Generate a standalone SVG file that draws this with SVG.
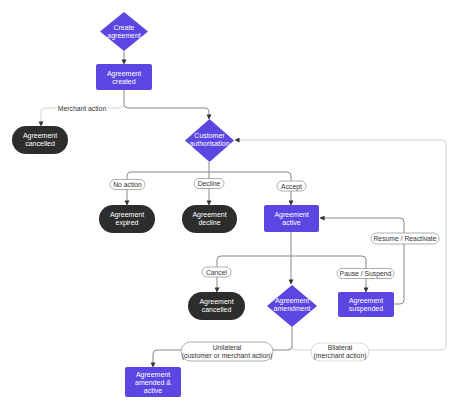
<svg xmlns="http://www.w3.org/2000/svg" width="474" height="417" viewBox="0 0 474 417">
<defs>
<marker id="arr" viewBox="0 0 6 6" refX="5.5" refY="3" markerWidth="5" markerHeight="5" orient="auto" markerUnits="userSpaceOnUse">
<path d="M0,0 L6,3 L0,6 Z" fill="#333"/>
</marker>
<style>
.purple{fill:#5b46e2}
.dark{fill:#2d2d2d}
.nt{font-family:"Liberation Sans",Arial,sans-serif;font-size:7px;fill:#fff;text-anchor:middle}
.lt{font-family:"Liberation Sans",Arial,sans-serif;font-size:6.8px;fill:#333;text-anchor:middle}
.lbl{fill:#fff;stroke:#999;stroke-width:0.8}
.lbll{fill:#fff;stroke:#d0d0d0;stroke-width:0.8}
.c{fill:none;stroke:#888;stroke-width:1}
.cl{fill:none;stroke:#d4d4d4;stroke-width:1}
</style>
</defs>
<rect width="474" height="417" fill="#fff"/>
<g id="connectors">
<path class="c" d="M124 51 V64" marker-end="url(#arr)"/>
<path class="c" d="M124 90 V104 Q124 108 128 108 H205 Q209 108 209 112 V119" marker-end="url(#arr)"/>
<path class="cl" d="M124 104 Q124 108 120 108 H45 Q41 108 41 112 V126" marker-end="url(#arr)"/>
<path class="c" d="M209 162 V205" marker-end="url(#arr)"/>
<path class="c" d="M209 172 H131 Q127 172 127 176 V205" marker-end="url(#arr)"/>
<path class="c" d="M209 172 H287 Q291 172 291 176 V205" marker-end="url(#arr)"/>
<path class="c" d="M291 232 V284" marker-end="url(#arr)"/>
<path class="c" d="M291 256 H221 Q217 256 217 260 V292" marker-end="url(#arr)"/>
<path class="c" d="M291 256 H362 Q366 256 366 260 V292" marker-end="url(#arr)"/>
<path class="c" d="M394 304 H400 Q404 304 404 300 V222 Q404 218 400 218 H320" marker-end="url(#arr)"/>
<path class="c" d="M292 327 V346 Q292 350 288 350 H157 Q153 350 153 354 V367" marker-end="url(#arr)"/>
<path class="cl" d="M292 346 Q292 350 296 350 H442 Q446 350 446 346 V144 Q446 140 442 140 H235" marker-end="url(#arr)"/>
<rect x="57" y="103" width="51" height="10" fill="#fff"/>
<text class="lt" x="82" y="110.5">Merchant action</text>
<rect class="lbl" x="110" y="179.5" width="35" height="10" rx="5"/>
<text class="lt" x="127.5" y="187">No action</text>
<rect class="lbl" x="194" y="178.5" width="30" height="10" rx="5"/>
<text class="lt" x="209" y="186">Decline</text>
<rect class="lbl" x="277" y="181" width="29" height="10" rx="5"/>
<text class="lt" x="291.5" y="188.5">Accept</text>
<rect class="lbl" x="202" y="267" width="29" height="10" rx="5"/>
<text class="lt" x="216.5" y="274.5">Cancel</text>
<rect class="lbl" x="337" y="268.5" width="57" height="10" rx="5"/>
<text class="lt" x="365.5" y="276">Pause / Suspend</text>
<rect class="lbl" x="371" y="233" width="68" height="11" rx="5.5"/>
<text class="lt" x="405" y="241">Resume / Reactivate</text>
<rect class="lbl" x="181" y="342" width="92" height="19" rx="9.5"/>
<text class="lt" x="227" y="349.5">Unilateral</text>
<text class="lt" x="227" y="357.5">(customer or merchant action)</text>
<rect class="lbll" x="311" y="343" width="58" height="18" rx="9"/>
<text class="lt" x="340" y="350">Bilateral</text>
<text class="lt" x="340" y="358">(merchant action)</text>
</g>
<g id="create-agreement">
<polygon class="purple" points="124,12 148,31.5 124,51 100,31.5"/>
<text class="nt" x="124" y="29.5">Create</text>
<text class="nt" x="124" y="37.5">agreement</text>
</g>
<g id="agreement-created">
<rect class="purple" x="96" y="64" width="56" height="26" rx="2"/>
<text class="nt" x="124" y="75.5">Agreement</text>
<text class="nt" x="124" y="83.5">created</text>
</g>
<g id="agreement-cancelled-1">
<rect class="dark" x="12" y="126" width="56" height="28" rx="14"/>
<text class="nt" x="40" y="138">Agreement</text>
<text class="nt" x="40" y="146">cancelled</text>
</g>
<g id="customer-authorisation">
<polygon class="purple" points="209.5,119 234,140.5 209.5,162 185,140.5"/>
<text class="nt" x="209.5" y="137.5">Customer</text>
<text class="nt" x="209.5" y="145.5">authorisation</text>
</g>
<g id="agreement-expired">
<rect class="dark" x="99" y="205" width="56" height="28" rx="14"/>
<text class="nt" x="127" y="217">Agreement</text>
<text class="nt" x="127" y="225">expired</text>
</g>
<g id="agreement-decline">
<rect class="dark" x="182" y="205" width="55" height="28" rx="14"/>
<text class="nt" x="209.5" y="217">Agreement</text>
<text class="nt" x="209.5" y="225">decline</text>
</g>
<g id="agreement-active">
<rect class="purple" x="264" y="205" width="55" height="27" rx="2"/>
<text class="nt" x="291.5" y="216.5">Agreement</text>
<text class="nt" x="291.5" y="224.5">active</text>
</g>
<g id="agreement-cancelled-2">
<rect class="dark" x="188" y="292" width="57" height="28" rx="14"/>
<text class="nt" x="216.5" y="304">Agreement</text>
<text class="nt" x="216.5" y="312">cancelled</text>
</g>
<g id="agreement-amendment">
<polygon class="purple" points="292,285 317,306 292,327 267,306"/>
<text class="nt" x="292" y="303">Agreement</text>
<text class="nt" x="292" y="311">amendment</text>
</g>
<g id="agreement-suspended">
<rect class="purple" x="338" y="292" width="56" height="25" rx="2"/>
<text class="nt" x="366" y="302.5">Agreement</text>
<text class="nt" x="366" y="310.5">suspended</text>
</g>
<g id="agreement-amended-active">
<rect class="purple" x="125" y="367" width="56" height="30" rx="2"/>
<text class="nt" x="153" y="376.5">Agreement</text>
<text class="nt" x="153" y="384.5">amended &amp;</text>
<text class="nt" x="153" y="392.5">active</text>
</g>
</svg>
